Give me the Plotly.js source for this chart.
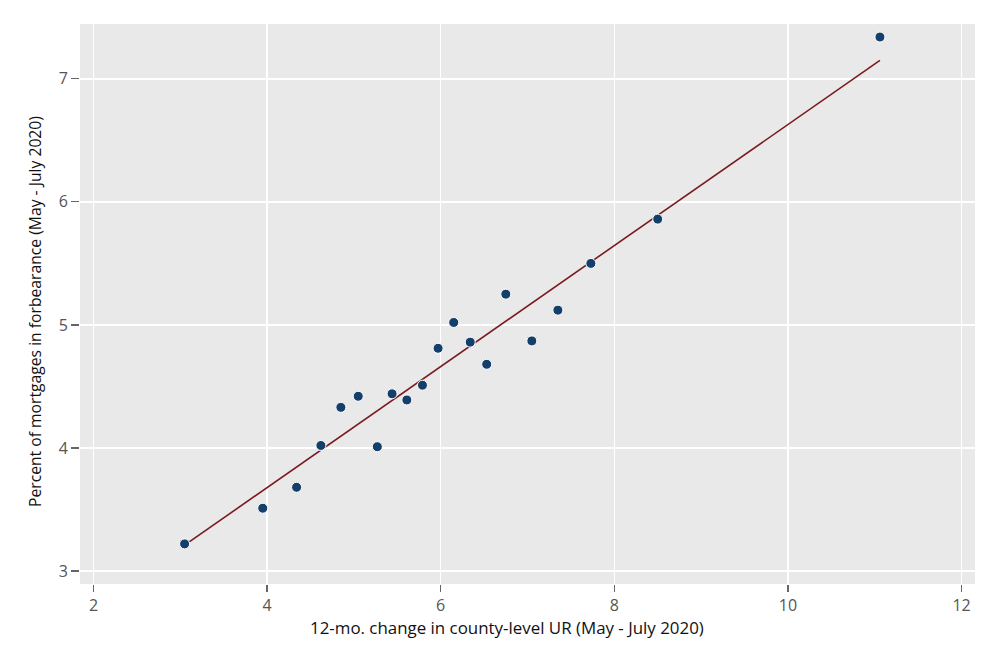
<!DOCTYPE html>
<html>
<head>
<meta charset="utf-8">
<script src="https://cdn.plot.ly/plotly-3.0.1.min.js"></script>
<style>html,body{margin:0;padding:0;background:#fff;}#chart{width:1000px;height:667px;}</style>
</head>
<body>
<div id="chart"></div>
<script>
const urChange = [3.05, 3.95, 4.34, 4.62, 4.85, 5.05, 5.27, 5.44, 5.61, 5.79, 5.97, 6.15, 6.34, 6.53, 6.75, 7.05, 7.35, 7.73, 8.50, 11.06];
const forbearance = [3.22, 3.51, 3.68, 4.02, 4.33, 4.42, 4.01, 4.44, 4.39, 4.51, 4.81, 5.02, 4.86, 4.68, 5.25, 4.87, 5.12, 5.50, 5.86, 7.34];
const fitX = [3.05, 11.06];
const fitY = [3.21, 7.15];
const xTicks = [2, 4, 6, 8, 10, 12];
const yTicks = [3, 4, 5, 6, 7];
const xTitle = '12-mo. change in county-level UR (May - July 2020)';
const yTitle = 'Percent of mortgages in forbearance (May - July 2020)';

const font = "'Open Sans', 'Liberation Sans', sans-serif";
const data = [
  {x: fitX, y: fitY, type: 'scatter', mode: 'lines', line: {color: '#7a1a1f', width: 1.6}, hoverinfo: 'skip', showlegend: false},
  {x: urChange, y: forbearance, type: 'scatter', mode: 'markers',
   marker: {color: '#143f6b', size: 10, line: {color: '#ffffff', width: 1}}, showlegend: false}
];
const layout = {
  width: 1000, height: 667,
  margin: {l: 80, r: 25, t: 24, b: 83},
  paper_bgcolor: '#ffffff', plot_bgcolor: '#e9e9e9',
  font: {family: font, size: 16, color: '#555555'},
  xaxis: {
    range: [1.845, 12.155], tickvals: xTicks, ticktext: xTicks.map(String),
    showgrid: true, gridcolor: '#ffffff', gridwidth: 1.5, zeroline: false,
    ticks: 'outside', ticklen: 7, tickcolor: '#666666', tickwidth: 1.2,
    showline: false
  },
  yaxis: {
    range: [2.894, 7.446], tickvals: yTicks, ticktext: yTicks.map(String),
    showgrid: true, gridcolor: '#ffffff', gridwidth: 1.5, zeroline: false,
    ticks: 'outside', ticklen: 8, tickcolor: '#666666', tickwidth: 1.2,
    showline: false
  },
  annotations: [
    {text: xTitle, xref: 'paper', yref: 'paper', x: (507 - 80) / 895, y: (584 - 627) / 560,
     xanchor: 'center', yanchor: 'middle', showarrow: false,
     font: {family: font, size: 16.9, color: '#111111'}},
    {text: yTitle, xref: 'paper', yref: 'paper', x: (35 - 80) / 895, y: (584 - 312) / 560,
     xanchor: 'center', yanchor: 'middle', showarrow: false, textangle: -90,
     font: {family: font, size: 15.7, color: '#111111'}}
  ]
};
Plotly.newPlot('chart', data, layout, {displayModeBar: false, staticPlot: true});
</script>
</body>
</html>
